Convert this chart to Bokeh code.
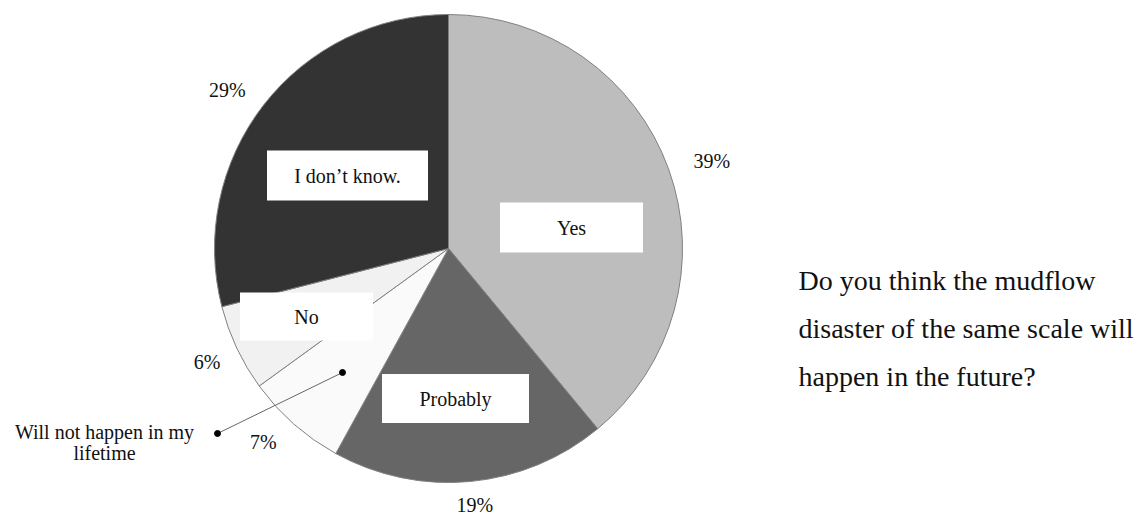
import math
from bokeh.plotting import figure
from bokeh.models import Range1d, ColumnDataSource
from bokeh.core.properties import value
from bokeh.embed import file_html
from bokeh.resources import INLINE

# ---- data ----
categories = ["Yes", "Probably", "Will not happen in my\nlifetime", "No", "I don\u2019t know."]
shares = [39, 19, 7, 6, 29]
pct_labels = ["39%", "19%", "7%", "6%", "29%"]
colors = ["#bdbdbd", "#666666", "#fafafa", "#f1f1f1", "#333333"]
question = "Do you think the mudflow\ndisaster of the same scale will\nhappen in the future?"

W, H = 1146, 516
FONT = value("Liberation Serif")

p = figure(width=W, height=H, x_range=Range1d(0, W), y_range=Range1d(0, H),
           output_backend="svg", toolbar_location=None,
           x_axis_location=None, y_axis_location=None, min_border=0)
p.grid.visible = False
p.outline_line_color = None
p.background_fill_color = "white"

cx, cy, R = 448, 268, 234

# wedges clockwise from top
total = sum(shares)
starts, ends, mids = [], [], []
acc = 0.0
for s in shares:
    a = acc / total
    b = (acc + s) / total
    starts.append(math.pi / 2 - 2 * math.pi * b)
    ends.append(math.pi / 2 - 2 * math.pi * a)
    mids.append(2 * math.pi * (a + b) / 2)  # clockwise from top
    acc += s

src = ColumnDataSource(dict(start=starts, end=ends, color=colors))
p.wedge(x=cx, y=cy, radius=R, start_angle="start", end_angle="end",
        fill_color="color", line_color="#808080", line_width=1, source=src)

# percentage labels on an ellipse around the pie
rx, ry = 280, 258
px = [cx + rx * math.sin(m) for m in mids]
py = [cy + ry * math.cos(m) for m in mids]
px[3] += 12
py[3] -= 4
p.text(x=px, y=py, text=pct_labels, text_font=FONT, text_font_size="20px",
       text_align="center", text_baseline="middle", text_color="#111111")

# white label boxes inside the slices (Yes, Probably, No, I don't know)
box_idx = [0, 1, 3, 4]
box_cx = [571, 455, 306, 347]
box_cy = [H - 227, H - 398, H - 316, H - 175]
box_w = [143, 147, 133, 161]
box_h = [50, 49, 48, 50]
p.rect(x=box_cx, y=box_cy, width=box_w, height=box_h,
       fill_color="white", line_color=None)
p.text(x=box_cx, y=box_cy, text=[categories[i] for i in box_idx], text_font=FONT,
       text_font_size="20px", text_align="center", text_baseline="middle",
       text_color="#111111")

# leader line for "Will not happen in my lifetime"
lx = [342, 217]
ly = [H - 372, H - 433]
p.line(x=lx, y=ly, line_color="#666666", line_width=1)
p.scatter(x=lx, y=ly, size=6, fill_color="black", line_color="black")
p.text(x=[104], y=[H - 442], text=[categories[2]], text_font=FONT,
       text_font_size="20px", text_align="center", text_baseline="middle",
       text_line_height=0.96, text_color="#111111")

# question text
p.text(x=[798], y=[H - 328], text=[question], text_font=FONT,
       text_font_size="28px", text_align="left", text_baseline="middle",
       text_line_height=1.56, text_color="#111111")

open("out.html", "w").write(file_html(p, INLINE))
